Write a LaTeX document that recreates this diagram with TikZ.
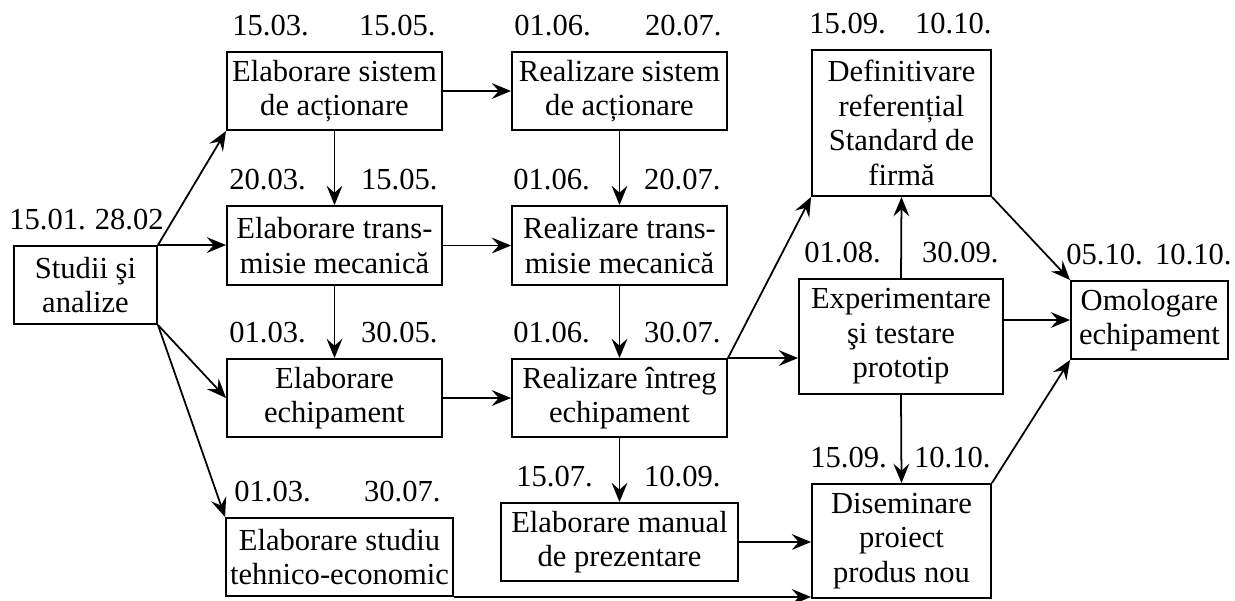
\documentclass[tikz,border=0pt]{standalone}
\usepackage{fontspec}
\setmainfont{Liberation Serif}
\usetikzlibrary{arrows.meta}

% start and end dates above a box (insets in px, positive inward)
\newcommand{\datepair}[5]{%
  \node[datelbl, anchor=south west] (#1-l) at ([xshift={(#2)*0.02cm}, yshift=0.3cm]#1.north west) {#4};
  \node[datelbl, anchor=south east] (#1-r) at ([xshift={-(#3)*0.02cm}, yshift=0.3cm]#1.north east) {#5};
}

\begin{document}
\begin{tikzpicture}[x=0.02cm, y=-0.02cm,
    box/.style={draw, line width=1.1pt, align=center, inner sep=0pt,
                font=\fontsize{17.4}{19.6}\selectfont},
    datelbl/.style={inner sep=0pt, font=\fontsize{17.4}{19.6}\selectfont},
    arr/.style={line width=1pt, -{Stealth[length=11pt, width=9pt, inset=4pt]}}]

    \useasboundingbox (0,0) rectangle (1235,600);

    % Start
    \node[box, minimum width=2.86cm, minimum height=1.56cm] (studii) at (85.5,285) {Studii şi\\analize};

    % Column 1
    \node[box, minimum width=4.3cm, minimum height=1.56cm] (elabsist) at (334.5,91) {Elaborare sistem\\de acționare};
    \node[box, minimum width=4.3cm, minimum height=1.58cm] (elabtrans) at (334.5,245.5) {Elaborare trans-\\misie mecanică};
    \node[box, minimum width=4.3cm, minimum height=1.56cm] (elabech) at (334.5,398) {Elaborare\\echipament};
    \node[box, minimum width=4.54cm, minimum height=1.56cm] (elabstud) at (339.5,557) {Elaborare studiu\\tehnico-economic};

    % Column 2
    \node[box, minimum width=4.3cm, minimum height=1.56cm] (realsist) at (619.5,91) {Realizare sistem\\de acționare};
    \node[box, minimum width=4.3cm, minimum height=1.58cm] (realtrans) at (619.5,245.5) {Realizare trans-\\misie mecanică};
    \node[box, minimum width=4.3cm, minimum height=1.56cm] (realech) at (619.5,398) {Realizare întreg\\echipament};
    \node[box, minimum width=4.74cm, minimum height=1.56cm] (elabman) at (619.5,542) {Elaborare manual\\de prezentare};

    % Column 3
    \node[box, minimum width=3.58cm, minimum height=2.92cm] (defin) at (901.5,123) {Definitivare\\referențial\\Standard de\\firmă};
    \node[box, minimum width=4.08cm, minimum height=2.3cm] (exper) at (901,336.5) {Experimentare\\şi testare\\prototip};
    \node[box, minimum width=3.58cm, minimum height=2.28cm] (disem) at (901.5,541) {Diseminare\\proiect\\produs nou};

    % End
    \node[box, minimum width=3.14cm, minimum height=1.56cm] (omol) at (1149.5,320) {Omologare\\echipament};

    % Dates
    \datepair{studii}{-4}{-6}{15.01.}{28.02}
    \datepair{elabsist}{6}{7}{15.03.}{15.05.}
    \datepair{elabtrans}{3}{5}{20.03.}{15.05.}
    \datepair{elabech}{3}{5}{01.03.}{30.05.}
    \datepair{elabstud}{9}{13}{01.03.}{30.07.}
    \datepair{realsist}{3}{6}{01.06.}{20.07.}
    \datepair{realtrans}{2}{7}{01.06.}{20.07.}
    \datepair{realech}{2}{7}{01.06.}{30.07.}
    \datepair{elabman}{16}{18}{15.07.}{10.09.}
    \datepair{defin}{-2}{0}{15.09.}{10.10.}
    \datepair{exper}{6}{5}{01.08.}{30.09.}
    \datepair{disem}{-1}{1}{15.09.}{10.10.}
    \datepair{omol}{-4}{-3}{05.10.}{10.10.}

    % Connectors from the start
    \draw[arr] (studii.north east) -- (elabsist.south west);
    \draw[arr] (studii.north east) -- (studii.north east -| elabtrans.west);
    \draw[arr] (studii.south east) -- (elabech.west);
    \draw[arr] (studii.south east) -- (elabstud.north west);

    % Connectors between columns 1 and 2
    \draw[arr] (elabsist.east) -- (realsist.west);
    \draw[arr] (elabsist.south) -- (elabtrans.north);
    \draw[arr] (elabtrans.south) -- (elabech.north);
    \draw[arr] (elabtrans.east) -- (realtrans.west);
    \draw[arr] (realsist.south) -- (realtrans.north);
    \draw[arr] (realtrans.south) -- (realech.north);
    \draw[arr] (elabech.east) -- (realech.west);
    \draw[arr] (realech.south) -- (elabman.north);

    % Connectors to column 3
    \draw[arr] (realech.north east) -- (defin.south west);
    \draw[arr] (realech.north east) -- (realech.north east -| exper.west);
    \draw[arr] (exper.north) -- (defin.south);
    \draw[arr] (exper.south) -- (disem.north);
    \draw[arr] (elabman.east) -- (elabman.east -| disem.west);
    \draw[arr] (elabstud.south east) -- (elabstud.south east -| disem.west);

    % Connectors to the end
    \draw[arr] (defin.south east) -- (omol.north west);
    \draw[arr] (omol.west -| exper.east) -- (omol.west);
    \draw[arr] (disem.north east) -- (omol.south west);
\end{tikzpicture}
\end{document}
